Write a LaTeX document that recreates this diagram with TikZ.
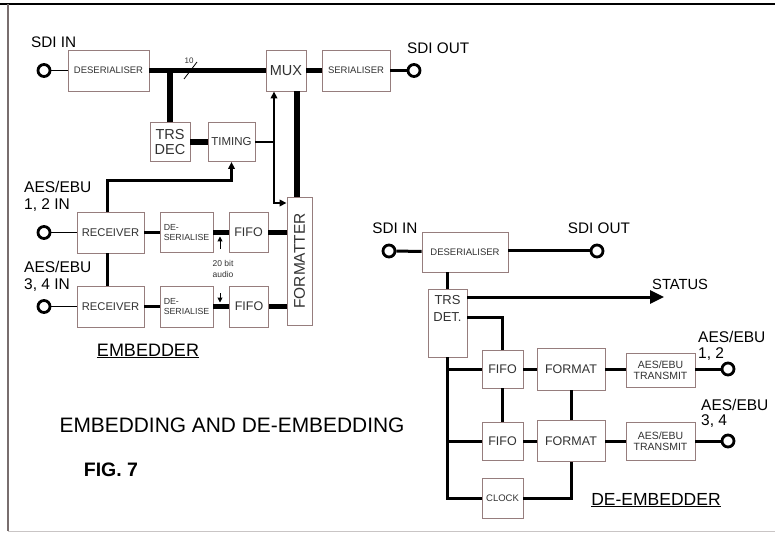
\documentclass[tikz,border=0pt]{standalone}
\usepackage{fontspec}
\usepackage{graphicx}
\setmainfont{Liberation Sans}
\usetikzlibrary{arrows.meta}
\definecolor{boxcol}{RGB}{150,125,125}
\definecolor{txtcol}{RGB}{50,50,50}
\definecolor{framecol}{RGB}{120,110,110}
\newcommand\fsz[2]{\fontsize{#1}{#2}\selectfont}
\begin{document}
\begin{tikzpicture}[x=1pt,y=-1pt,
  blk/.style={draw=boxcol,line width=0.9pt,inner sep=0pt,text=txtcol,align=center},
  port/.style={circle,draw=black,line width=2.8pt,minimum size=12pt,inner sep=0pt,fill=white},
  bus/.style={line width=5.5pt},
  wire/.style={line width=3pt},
  thinw/.style={line width=1.8pt},
  lab/.style={inner sep=0pt,text=black},
  smalltip/.style={-{Triangle[length=7pt,width=6.5pt]}},
  bigtip/.style={-{Triangle[length=14pt,width=13pt]}},
]
\useasboundingbox (0,0) rectangle (775,534);
\fill[white] (0,0) rectangle (775,534);
% frame
\draw[line width=2pt] (0,4) -- (775,4);
\draw[framecol,line width=1.4pt] (8,4) -- (8,531);
\draw[framecol!40,line width=1pt] (8,531) -- (775,531);

% ================= EMBEDDER =================
\node[blk,minimum width=81,minimum height=41,font=\fsz{9.5}{11}] (des1) at (108.5,70.5) {DESERIALISER};
\node[blk,minimum width=40,minimum height=41,font=\fsz{14.5}{16}] (mux) at (286,70.5) {MUX};
\node[blk,minimum width=68,minimum height=41,font=\fsz{9.5}{11}] (ser) at (356,70.5) {SERIALISER};
\node[port] (in1) at (44,70.5) {};
\node[port] (out1) at (414,70.5) {};
\node[blk,minimum width=40,minimum height=39,font=\fsz{14.5}{15}] (trs) at (170,142) {TRS\\DEC};
\node[blk,minimum width=47,minimum height=39,font=\fsz{11.5}{13}] (timing) at (231.5,142) {TIMING};
\node[blk,minimum width=25,minimum height=128,font=\fsz{15.5}{17}] (fmt) at (299.5,261) {\rotatebox{90}{FORMATTER}};
\node[port] (a12) at (44,232.5) {};
\node[blk,minimum width=67,minimum height=41,font=\fsz{11.2}{13}] (rec1) at (110.5,232.5) {RECEIVER};
\node[blk,minimum width=53,minimum height=40,font=\fsz{8.8}{10},align=left] (dser1) at (186.5,232.5) {DE-\\SERIALISE};
\node[blk,minimum width=39,minimum height=40,font=\fsz{12.5}{14}] (fifo1) at (248.5,232.5) {FIFO};
\node[port] (a34) at (44,306.5) {};
\node[blk,minimum width=67,minimum height=41,font=\fsz{11.2}{13}] (rec2) at (110.5,306.5) {RECEIVER};
\node[blk,minimum width=53,minimum height=41,font=\fsz{8.8}{10},align=left] (dser2) at (186.5,306.5) {DE-\\SERIALISE};
\node[blk,minimum width=39,minimum height=41,font=\fsz{12.5}{14}] (fifo2) at (249,306.5) {FIFO};

% labels
\node[lab,font=\fsz{15.3}{17},anchor=west] (lsdiin1) at (31,42) {SDI IN};
\node[lab,font=\fsz{15.3}{17},anchor=west] (lsdiout1) at (407,48) {SDI OUT};
\node[lab,font=\fsz{15.5}{16.5},anchor=west,align=left] (laes12) at (24,196.5) {AES/EBU\\1, 2 IN};
\node[lab,font=\fsz{15.5}{16.5},anchor=west,align=left] (laes34) at (24,276.5) {AES/EBU\\3, 4 IN};
\node[lab,font=\fsz{8.5}{11},text=txtcol,align=center] (aud) at (223,269) {20 bit\\audio};
\node[lab,font=\fsz{8}{9},text=txtcol] (ten) at (189,61) {10};
\node[lab,font=\fsz{18}{20}] (lemb) at (148,351) {\underline{EMBEDDER}};

% connectors
\draw[thinw] (in1) -- (des1);
\draw[bus] (des1) -- (mux);
\draw[bus] (mux) -- (ser);
\draw[wire] (ser) -- (out1);
\draw[line width=0.8pt] (184,79) -- (197,62);
\draw[bus] (trs.north) -- (trs.north |- des1.east);
\draw[bus] (trs) -- (timing);
\coordinate (j1) at (274,142);
\coordinate (j2) at (274,203);
\draw[thinw] (timing.east) -- (j1);
\draw[thinw,smalltip] (j1) -- (j1 |- mux.south);
\draw[thinw,smalltip] (j1) -- (j2) -- (j2 -| fmt.west);
\draw[bus] ([xshift=-2.5]fmt.north) -- ([xshift=-2.5]fmt.north |- mux.south);
\draw[thinw] (a12) -- (rec1);
\draw[wire] (rec1) -- (dser1);
\draw[bus] (dser1) -- (fifo1);
\draw[bus] (fifo1) -- (fifo1 -| fmt.west);
\draw[thinw] (a34) -- (rec2);
\draw[wire] (rec2) -- (dser2);
\draw[bus] (dser2) -- (fifo2);
\draw[bus] (fifo2) -- (fifo2 -| fmt.west);
\draw[wire] ([xshift=-3.5]rec1.south) -- ([xshift=-3.5]rec2.north);
\coordinate (j3) at (107,181);
\draw[wire,smalltip] ([xshift=-3.5]rec1.north) -- (j3) -| (timing.south);
\coordinate (au1) at (220,249);
\coordinate (au2) at (220,293);
\draw[line width=1pt,-{Triangle[length=5pt,width=5pt]}] (au1) -- (220,236.5);
\draw[line width=1pt,-{Triangle[length=5pt,width=5pt]}] (au2) -- (220,302.5);

% ================= DE-EMBEDDER =================
\node[port] (din) at (389,251) {};
\node[blk,minimum width=86,minimum height=40,font=\fsz{9.5}{11}] (ddes) at (465,252) {DESERIALISER};
\node[port] (dout) at (597,251) {};
\node[blk,minimum width=39,minimum height=68,label={[font=\fsz{13}{17},text=txtcol,align=center,anchor=north,yshift=-3pt]north:TRS\\DET.}] (trsdet) at (447.5,323) {};
\node[blk,minimum width=41,minimum height=38,font=\fsz{12.5}{14}] (dfifo1) at (502.5,369) {FIFO};
\node[blk,minimum width=68,minimum height=42,font=\fsz{12.5}{14}] (dfmt1) at (571,369) {FORMAT};
\node[blk,minimum width=69,minimum height=34,font=\fsz{10.5}{11.5}] (dtx1) at (660.5,370) {AES/EBU\\TRANSMIT};
\node[port] (dout1) at (728,369) {};
\node[blk,minimum width=41,minimum height=38,font=\fsz{12.5}{14}] (dfifo2) at (502.5,441) {FIFO};
\node[blk,minimum width=68,minimum height=41,font=\fsz{12.5}{14}] (dfmt2) at (571,441) {FORMAT};
\node[blk,minimum width=69,minimum height=38,font=\fsz{10.5}{11.5}] (dtx2) at (660.5,441) {AES/EBU\\TRANSMIT};
\node[port] (dout2) at (728,441) {};
\node[blk,minimum width=41,minimum height=40,font=\fsz{9.5}{11}] (dclock) at (502.5,498) {CLOCK};

\node[lab,font=\fsz{15.3}{17}] (lsdiin2) at (395,228) {SDI IN};
\node[lab,font=\fsz{15.3}{17}] (lsdiout2) at (599,228) {SDI OUT};
\node[lab,font=\fsz{14.7}{17},anchor=west] (lstatus) at (652,284) {STATUS};
\node[lab,font=\fsz{15.5}{16},anchor=north west,align=left] (laeso12) at (698,331) {AES/EBU\\1, 2};
\node[lab,font=\fsz{15.5}{15.5},anchor=north west,align=left] (laeso34) at (701,399) {AES/EBU\\3, 4};
\node[lab,font=\fsz{17.5}{20}] (ldemb) at (656,500) {\underline{DE-EMBEDDER}};

\draw[wire] (din) -- (ddes);
\draw[wire] (ddes.east |- dout) -- (dout);
\draw[wire] (ddes.south -| trsdet.north) -- (trsdet.north);
\coordinate (st) at (664,297);
\draw[wire,bigtip] (trsdet.east |- st) -- (st);
\coordinate (k1) at (467,317);
\draw[wire] (trsdet.east |- k1) -| (dfifo1.north);
\draw[wire] (trsdet.south) -- (trsdet.south |- dclock.west) -- (dclock.west);
\draw[wire] (trsdet.south |- dfifo1.west) -- (dfifo1.west);
\draw[wire] (trsdet.south |- dfifo2.west) -- (dfifo2.west);
\draw[wire] (dclock.east) -| (dfmt2.south);
\draw[wire] (dfifo1) -- (dfifo2);
\draw[wire] (dfmt1) -- (dfmt2);
\draw[wire] (dfifo1) -- (dfmt1);
\draw[wire] (dfmt1) -- (dtx1.west |- dfmt1);
\draw[wire] (dtx1.east |- dout1) -- (dout1);
\draw[wire] (dfifo2) -- (dfmt2);
\draw[wire] (dfmt2) -- (dtx2);
\draw[wire] (dtx2) -- (dout2);

% titles
\node[lab,font=\fsz{20.9}{23}] (ltitle) at (232,425) {EMBEDDING AND DE-EMBEDDING};
\node[lab,font=\bfseries\fsz{19.5}{21}] (lfig) at (111,470) {FIG. 7};
\end{tikzpicture}
\end{document}
